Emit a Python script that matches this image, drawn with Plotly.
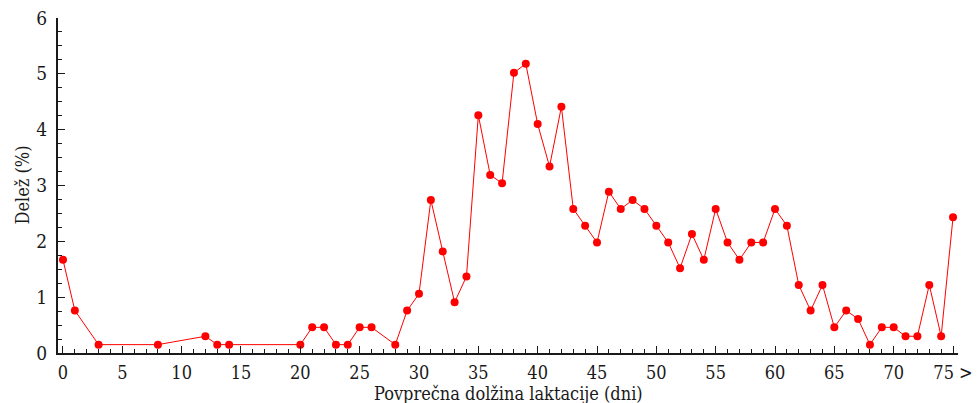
import plotly.graph_objects as go

# Lactation length (days) and share of records (%)
days = [0, 1, 3, 8, 12, 13, 14, 20, 21, 22, 23, 24, 25, 26, 28, 29, 30, 31, 32, 33,
        34, 35, 36, 37, 38, 39, 40, 41, 42, 43, 44, 45, 46, 47, 48, 49, 50, 51, 52,
        53, 54, 55, 56, 57, 58, 59, 60, 61, 62, 63, 64, 65, 66, 67, 68, 69, 70, 71,
        72, 73, 74, 75]
share = [1.67, 0.76, 0.15, 0.15, 0.30, 0.15, 0.15, 0.15, 0.46, 0.46, 0.15, 0.15, 0.46,
         0.46, 0.15, 0.76, 1.06, 2.74, 1.82, 0.91, 1.37, 4.26, 3.19, 3.04, 5.02, 5.18,
         4.10, 3.34, 4.41, 2.58, 2.28, 1.98, 2.89, 2.58, 2.74, 2.58, 2.28, 1.98, 1.52,
         2.13, 1.67, 2.58, 1.98, 1.67, 1.98, 1.98, 2.58, 2.28, 1.22, 0.76, 1.22, 0.46,
         0.76, 0.61, 0.15, 0.46, 0.46, 0.30, 0.30, 1.22, 0.30, 2.43]

x_ticks = [0, 5, 10, 15, 20, 25, 30, 35, 40, 45, 50, 55, 60, 65, 70, 75]
x_tick_text = ["0", "5", "10", "15", "20", "25", "30", "35", "40", "45", "50", "55",
               "60", "65", "70", "75 >"]
y_ticks = [0, 1, 2, 3, 4, 5, 6]

INK = "#1a1a1a"
FONT = "DejaVu Serif Condensed, DejaVu Serif"

fig = go.Figure(go.Scatter(
    x=days, y=share, mode="lines+markers",
    line=dict(color="#ff0000", width=1),
    marker=dict(color="#ff0000", size=8),
))

fig.update_layout(
    width=979, height=403,
    margin=dict(l=58, r=21, t=18, b=50),
    paper_bgcolor="white", plot_bgcolor="white",
    showlegend=False,
    font=dict(family=FONT, size=18, color=INK),
    xaxis=dict(
        range=[-0.42, 75.42], tickmode="array", tickvals=x_ticks, ticktext=x_tick_text,
        ticks="inside", ticklen=7, tickwidth=1.2, tickcolor=INK,
        minor=dict(dtick=1, ticks="inside", ticklen=4, tickwidth=1, tickcolor=INK),
        showline=True, linecolor=INK, linewidth=2,
        showgrid=False, zeroline=False, automargin=False,
        tickfont=dict(family=FONT, size=18, color=INK),
        ticklabelstandoff=2,
    ),
    yaxis=dict(
        range=[0, 6], tickmode="array", tickvals=y_ticks,
        ticks="inside", ticklen=7, tickwidth=1.2, tickcolor=INK,
        minor=dict(dtick=0.25, ticks="inside", ticklen=4, tickwidth=1, tickcolor=INK),
        showline=True, linecolor=INK, linewidth=2,
        showgrid=False, zeroline=False, automargin=False,
        tickfont=dict(family=FONT, size=19, color=INK),
        ticklabelstandoff=5,
    ),
    annotations=[
        dict(text="Povprečna dolžina laktacije (dni)", xref="paper", yref="paper",
             x=0.5, y=0, xanchor="center", yanchor="middle", yshift=-40,
             showarrow=False, font=dict(family=FONT, size=18, color=INK)),
        dict(text="Delež (%)", xref="paper", yref="paper", textangle=-90,
             x=0, y=0.5, xanchor="center", yanchor="middle", xshift=-36,
             showarrow=False, font=dict(family=FONT, size=18, color=INK)),
    ],
)

fig.write_html("out.html")
